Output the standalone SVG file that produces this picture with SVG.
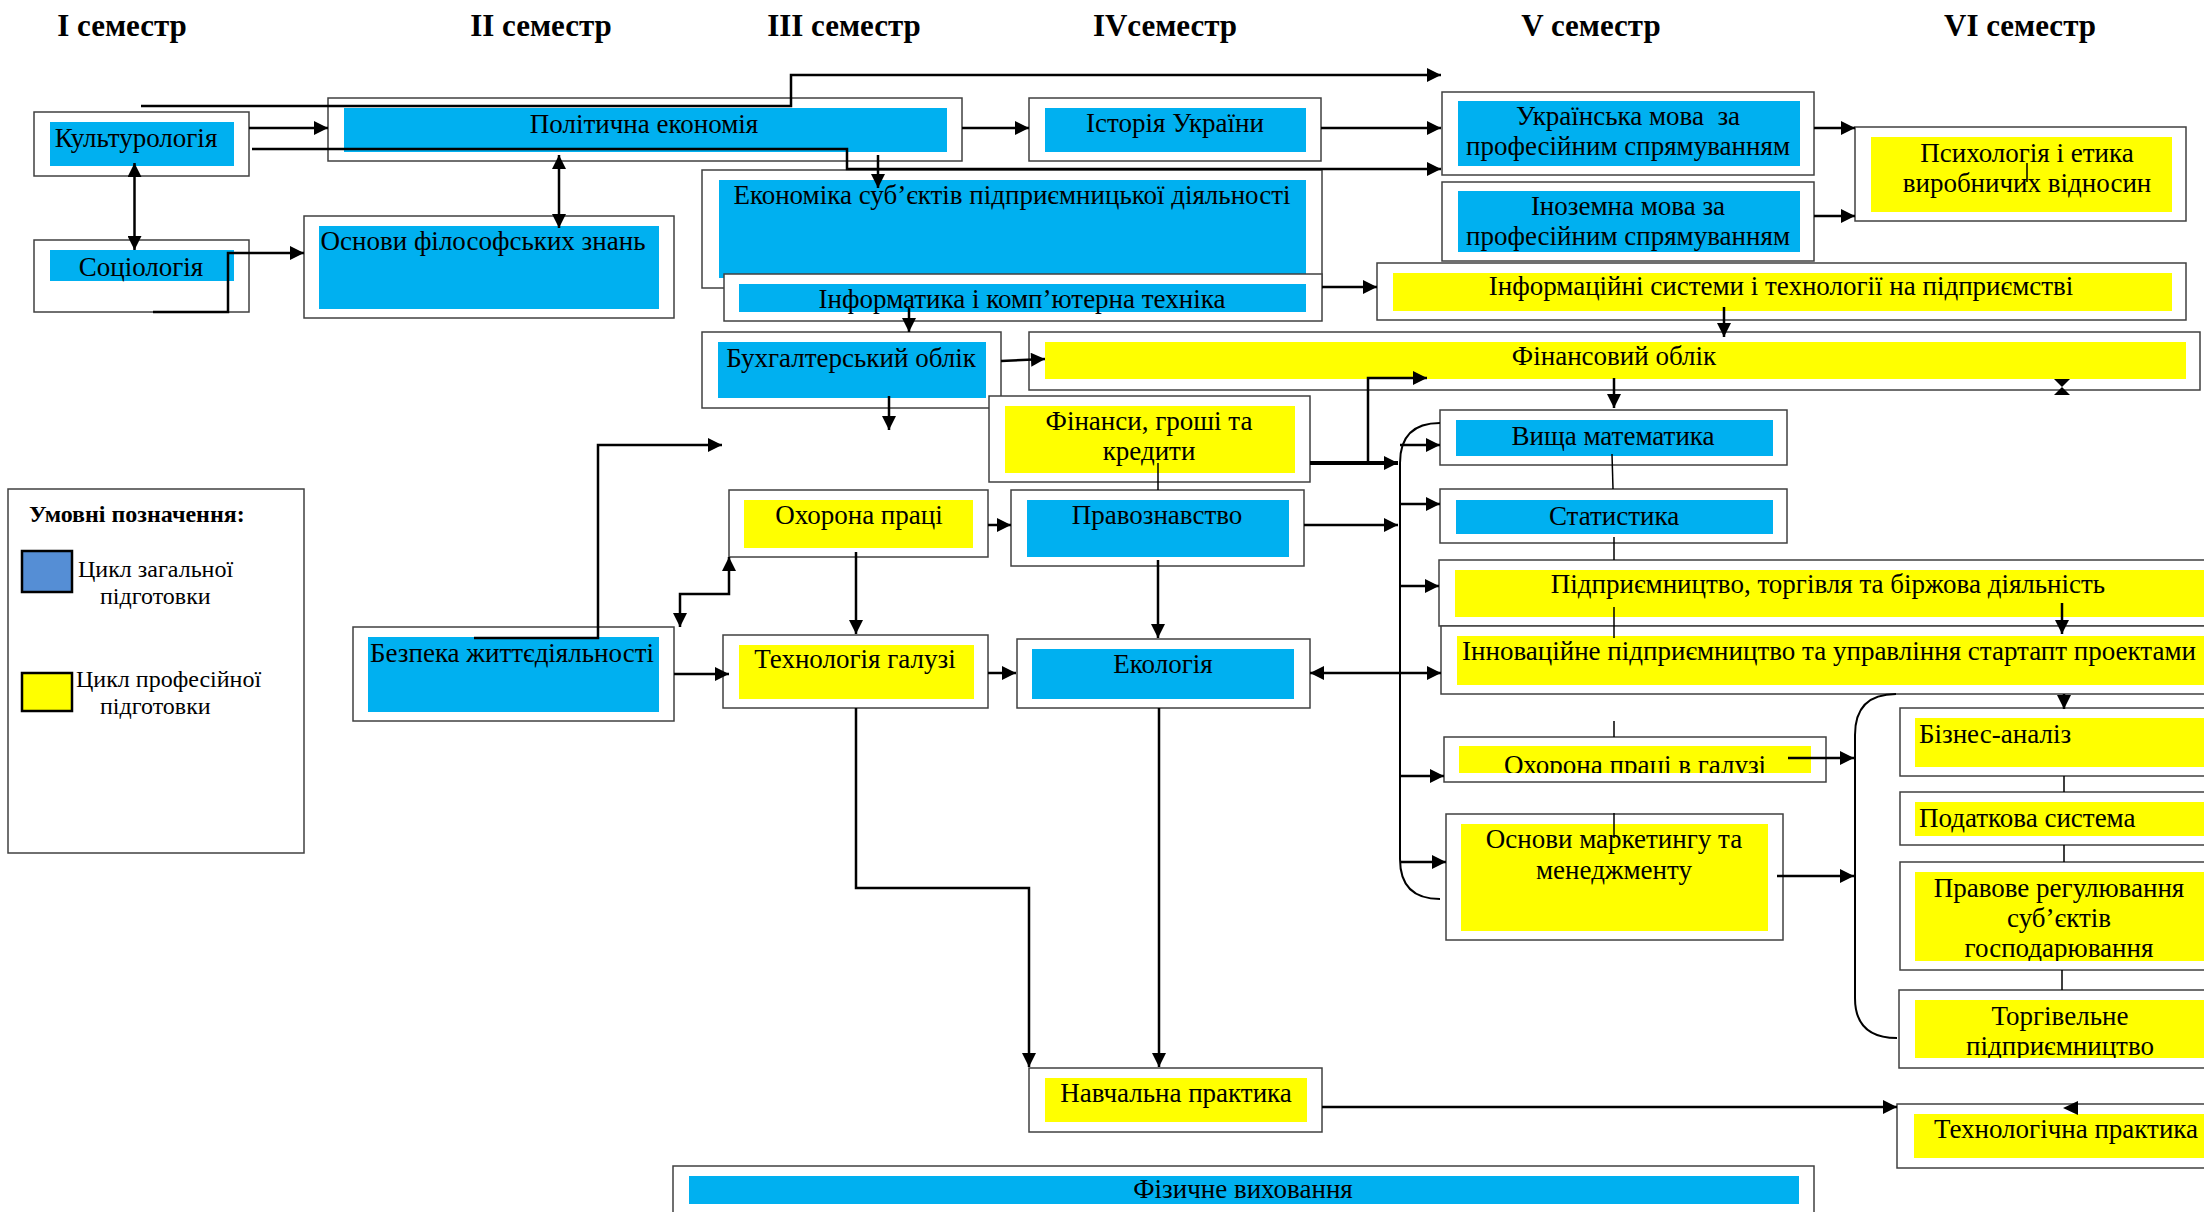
<svg xmlns="http://www.w3.org/2000/svg" width="2204" height="1212" viewBox="0 0 2204 1212">
<style>
.o{fill:#fff;stroke:#404040;stroke-width:1.5}
.b{fill:#00B0F0}
.y{fill:#FFFF00}
text{font-family:"Liberation Serif","Times New Roman",serif;font-size:27px;fill:#000}
.c{text-anchor:middle}
.h{font-weight:bold;font-size:31px}
.l{stroke:#000;stroke-width:2.5;fill:none}
.th{stroke:#000;stroke-width:1.5;fill:none}
.a{marker-end:url(#ar)}
.d{marker-start:url(#ar);marker-end:url(#ar)}
</style>
<defs>
<marker id="ar" viewBox="0 0 10 10" refX="10" refY="5" markerWidth="15" markerHeight="14" markerUnits="userSpaceOnUse" orient="auto-start-reverse"><path d="M0,0 L10,5 L0,10 z" fill="#000"/></marker>
<clipPath id="k1"><rect x="1459" y="746" width="352" height="27"/></clipPath>
<clipPath id="k2"><rect x="1915" y="872" width="289" height="89"/></clipPath>
<clipPath id="k3"><rect x="1915" y="1000" width="289" height="58"/></clipPath>
</defs>
<rect width="2204" height="1212" fill="#fff"/>
<g id="headers">
<text class="h c" x="122" y="36">I семестр</text>
<text class="h c" x="541" y="36">II семестр</text>
<text class="h c" x="844" y="36">III семестр</text>
<text class="h c" x="1165" y="36">IVсеместр</text>
<text class="h c" x="1591" y="36">V семестр</text>
<text class="h c" x="2020" y="36">VI семестр</text>
</g>
<g id="legend">
<rect class="o" x="8" y="489" width="296" height="364"/>
<text x="29" y="522" style="font-weight:bold;font-size:24px">Умовні позначення:</text>
<rect x="22" y="551" width="50" height="41" fill="#558ED5" stroke="#000" stroke-width="2.5"/>
<text x="78" y="577" style="font-size:24px">Цикл загальної</text>
<text x="100" y="604" style="font-size:24px">підготовки</text>
<rect x="22" y="673" width="50" height="38" fill="#FFFF00" stroke="#000" stroke-width="2.5"/>
<text x="76" y="687" style="font-size:24px">Цикл професійної</text>
<text x="100" y="714" style="font-size:24px">підготовки</text>
</g>
<g id="n-kult"><rect class="o" x="34" y="112" width="215" height="64"/><rect class="b" x="50" y="122" width="184" height="44"/><text class="c" x="136" y="147">Культурологія</text></g>
<g id="n-soc"><rect class="o" x="34" y="240" width="215" height="72"/><rect class="b" x="50" y="250" width="184" height="31"/><text class="c" x="141" y="276">Соціологія</text></g>
<g id="n-polek"><rect class="o" x="328" y="98" width="634" height="63"/><rect class="b" x="344" y="108" width="603" height="44"/><text class="c" x="644" y="133">Політична економія</text></g>
<g id="n-filos"><rect class="o" x="304" y="216" width="370" height="102"/><rect class="b" x="319" y="226" width="340" height="83"/><text class="c" x="483" y="250">Основи філософських знань</text></g>
<g id="n-ekon"><rect class="o" x="702" y="170" width="620" height="118"/><rect class="b" x="719" y="180" width="587" height="98"/><text class="c" x="1012" y="204">Економіка суб’єктів підприємницької діяльності</text></g>
<g id="n-inform"><rect class="o" x="724" y="274" width="598" height="47"/><rect class="b" x="739" y="284" width="567" height="28"/><text class="c" x="1022" y="308">Інформатика і комп’ютерна техніка</text></g>
<g id="n-buh"><rect class="o" x="702" y="332" width="299" height="76"/><rect class="b" x="718" y="342" width="268" height="56"/><text class="c" x="851" y="367">Бухгалтерський облік</text></g>
<g id="n-ist"><rect class="o" x="1029" y="98" width="292" height="63"/><rect class="b" x="1045" y="108" width="261" height="44"/><text class="c" x="1175" y="132">Історія України</text></g>
<g id="n-ukr"><rect class="o" x="1442" y="92" width="372" height="83"/><rect class="b" x="1458" y="101" width="342" height="65"/><text class="c" x="1628" y="125">Українська мова&#160; за</text><text class="c" x="1628" y="155">професійним спрямуванням</text></g>
<g id="n-inoz"><rect class="o" x="1442" y="182" width="372" height="79"/><rect class="b" x="1458" y="191" width="342" height="61"/><text class="c" x="1628" y="215">Іноземна мова за</text><text class="c" x="1628" y="245">професійним спрямуванням</text></g>
<g id="n-psych"><rect class="o" x="1855" y="127" width="331" height="94"/><rect class="y" x="1871" y="137" width="301" height="75"/><text class="c" x="2027" y="162">Психологія і етика</text><text class="c" x="2027" y="192">виробничих відносин</text></g>
<g id="n-infsys"><rect class="o" x="1377" y="263" width="809" height="57"/><rect class="y" x="1393" y="273" width="779" height="38"/><text class="c" x="1781" y="295">Інформаційні системи і технології на підприємстві</text></g>
<g id="n-finob"><rect class="o" x="1029" y="332" width="1171" height="58"/><rect class="y" x="1045" y="342" width="1141" height="37"/><text class="c" x="1614" y="365">Фінансовий облік</text></g>
<g id="n-fin"><rect class="o" x="989" y="396" width="321" height="86"/><rect class="y" x="1005" y="406" width="290" height="67"/><text class="c" x="1149" y="430">Фінанси, гроші та</text><text class="c" x="1149" y="460">кредити</text></g>
<g id="n-oh"><rect class="o" x="729" y="490" width="259" height="67"/><rect class="y" x="744" y="500" width="229" height="48"/><text class="c" x="859" y="524">Охорона праці</text></g>
<g id="n-prav"><rect class="o" x="1011" y="490" width="293" height="76"/><rect class="b" x="1027" y="500" width="262" height="57"/><text class="c" x="1157" y="524">Правознавство</text></g>
<g id="n-bezp"><rect class="o" x="353" y="627" width="321" height="94"/><rect class="b" x="368" y="637" width="291" height="75"/><text class="c" x="512" y="662">Безпека життєдіяльності</text></g>
<g id="n-tehg"><rect class="o" x="723" y="635" width="265" height="73"/><rect class="y" x="739" y="645" width="235" height="54"/><text class="c" x="855" y="668">Технологія галузі</text></g>
<g id="n-ekol"><rect class="o" x="1017" y="639" width="293" height="69"/><rect class="b" x="1032" y="649" width="262" height="50"/><text class="c" x="1163" y="673">Екологія</text></g>
<g id="n-vyshm"><rect class="o" x="1440" y="410" width="347" height="55"/><rect class="b" x="1456" y="420" width="317" height="36"/><text class="c" x="1613" y="445">Вища математика</text></g>
<g id="n-stat"><rect class="o" x="1440" y="489" width="347" height="54"/><rect class="b" x="1456" y="500" width="317" height="34"/><text class="c" x="1614" y="525">Статистика</text></g>
<g id="n-pidpr"><rect class="o" x="1439" y="560" width="780" height="66"/><rect class="y" x="1455" y="570" width="760" height="47"/><text class="c" x="1828" y="593">Підприємництво, торгівля та біржова діяльність</text></g>
<g id="n-innov"><rect class="o" x="1441" y="626" width="780" height="68"/><rect class="y" x="1457" y="636" width="760" height="49"/><text class="c" x="1829" y="660">Інноваційне підприємництво та управління стартапт проектами</text></g>
<g id="n-ohg"><rect class="o" x="1444" y="737" width="382" height="45"/><rect class="y" x="1459" y="746" width="352" height="27"/><text class="c" x="1635" y="774" clip-path="url(#k1)">Охорона праці в галузі</text></g>
<g id="n-mark"><rect class="o" x="1446" y="814" width="337" height="126"/><rect class="y" x="1461" y="824" width="307" height="107"/><text class="c" x="1614" y="848">Основи маркетингу та</text><text class="c" x="1614" y="879">менеджменту</text></g>
<g id="n-bizn"><rect class="o" x="1900" y="708" width="320" height="68"/><rect class="y" x="1915" y="718" width="300" height="49"/><text x="1919" y="743">Бізнес-аналіз</text></g>
<g id="n-podat"><rect class="o" x="1900" y="792" width="320" height="53"/><rect class="y" x="1915" y="802" width="300" height="34"/><text x="1919" y="827">Податкова система</text></g>
<g id="n-pravreg"><rect class="o" x="1900" y="862" width="320" height="108"/><rect class="y" x="1915" y="872" width="300" height="89"/><g clip-path="url(#k2)"><text class="c" x="2059" y="897">Правове регулювання</text><text class="c" x="2059" y="927">суб’єктів</text><text class="c" x="2059" y="957">господарювання</text></g></g>
<g id="n-torg"><rect class="o" x="1899" y="990" width="320" height="78"/><rect class="y" x="1915" y="1000" width="300" height="58"/><g clip-path="url(#k3)"><text class="c" x="2060" y="1025">Торгівельне</text><text class="c" x="2060" y="1055">підприємництво</text></g></g>
<g id="n-navch"><rect class="o" x="1029" y="1068" width="293" height="64"/><rect class="y" x="1045" y="1078" width="262" height="44"/><text class="c" x="1176" y="1102">Навчальна практика</text></g>
<g id="n-tehpr"><rect class="o" x="1897" y="1104" width="320" height="64"/><rect class="y" x="1914" y="1114" width="300" height="44"/><text class="c" x="2066" y="1138">Технологічна практика</text></g>
<g id="n-fiz"><rect class="o" x="673" y="1166" width="1141" height="60"/><rect class="b" x="689" y="1176" width="1110" height="28"/><text class="c" x="1243" y="1198">Фізичне виховання</text></g>
<g id="connectors">
<path class="l a" d="M141,106 H791 V75 H1441"/>
<path class="l a" d="M249,128 H328"/>
<path class="l a" d="M252,149 H847 V169 H1441"/>
<path class="l a" d="M962,128 H1029"/>
<path class="l a" d="M1321,128 H1441"/>
<path class="l a" d="M878,155 V188"/>
<path class="l d" d="M134.5,163 V250"/>
<path class="l d" d="M559,155 V228"/>
<path class="l a" d="M153,312 H228 V253 H304"/>
<path class="l a" d="M1814,128 H1855"/>
<path class="l a" d="M1814,216 H1855"/>
<path class="th" d="M2027,163 V182"/>
<path class="l a" d="M1322,287 H1377"/>
<path class="l a" d="M909,308 V332"/>
<path class="l a" d="M1001,361 L1045,359"/>
<path class="l a" d="M1724,307 V337"/>
<path class="l a" d="M1614,378 V408"/>
<path d="M2054,379 H2070 L2062,387 z M2054,395 H2070 L2062,387 z" fill="#000"/>
<path class="l a" d="M889,396 V430"/>
<path class="l a" d="M474,638 H598 V445 H722"/>
<path class="l a" d="M1310,463 H1398" style="stroke-width:4"/>
<path class="l a" d="M1368,463 V378 H1427"/>
<path class="th" d="M1158,463 V490"/>
<path class="l a" d="M988,525 H1011"/>
<path class="l d" d="M680,627 V594 H729 V557"/>
<path class="l a" d="M674,674 H729"/>
<path class="l a" d="M856,552 V634"/>
<path class="l a" d="M1158,560 V638"/>
<path class="l a" d="M988,673 H1016"/>
<path class="l d" d="M1310,673 H1441"/>
<path class="l a" d="M1304,525 H1398"/>
<path class="th" style="stroke-width:2" d="M1440,423 Q1400,423 1400,463 V859 Q1400,899 1440,899"/>
<path class="l a" d="M1400,445 H1440"/>
<path class="l a" d="M1400,504 H1440"/>
<path class="l a" d="M1400,586 H1439"/>
<path class="l a" d="M1400,776 H1444"/>
<path class="l a" d="M1400,862 H1446"/>
<path class="th" d="M1612,454 L1613,489"/>
<path class="th" d="M1614,537 V560"/>
<path class="th" d="M1614,607 V638"/>
<path class="l a" d="M2062,603 V634"/>
<path class="l a" d="M2064,694 V709"/>
<path class="th" d="M1614,721 V737"/>
<path class="l a" d="M1788,758 H1854"/>
<path class="th" style="stroke-width:2" d="M1896,694 Q1855,694 1855,735 V998 Q1855,1038 1897,1038"/>
<path class="l a" d="M1777,876 H1854"/>
<path class="th" d="M1614,813 V838"/>
<path class="th" d="M2064,776 V792 M2064,845 V862 M2062,970 V990"/>
<path class="l a" d="M1322,1107 H1897"/>
<path d="M2063,1108 L2078,1101 L2078,1115 z" fill="#000"/>
<path class="l a" d="M856,708 V888 H1029 V1067"/>
<path class="l a" d="M1159,708 V1067"/>
</g>
</svg>
